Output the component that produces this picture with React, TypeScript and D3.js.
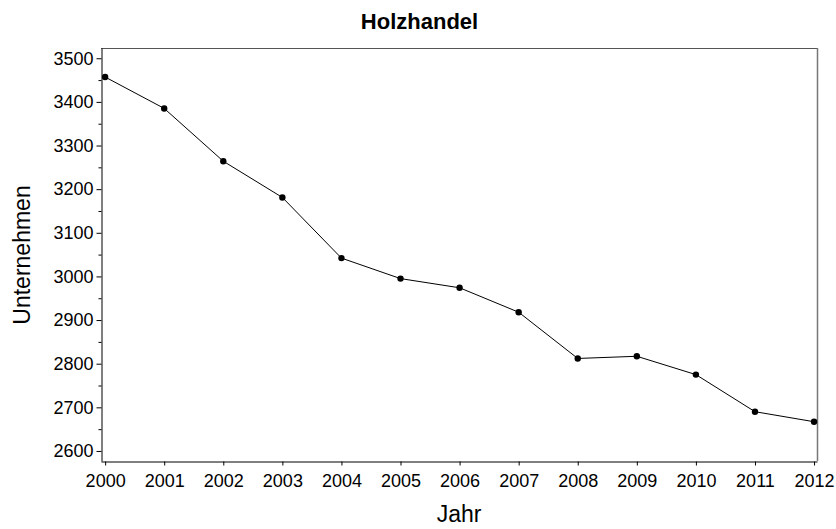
import React, { useRef, useEffect } from 'react';
import * as d3 from 'd3';

const years = [2000, 2001, 2002, 2003, 2004, 2005, 2006, 2007, 2008, 2009, 2010, 2011, 2012];
const unternehmen = [3457, 3385, 3264, 3181, 3042, 2995, 2974, 2918, 2812, 2817, 2775, 2690, 2667];
const yTicks = [2600, 2700, 2800, 2900, 3000, 3100, 3200, 3300, 3400, 3500];
const yMinorTicks = [2650, 2750, 2850, 2950, 3050, 3150, 3250, 3350, 3450];

const W = 836;
const H = 529;

export default function App() {
  const svgRef = useRef<SVGSVGElement>(null);

  useEffect(() => {
    const svg = d3.select(svgRef.current);
    svg.selectAll('*').remove();

    // plot frame
    const left = 101, right = 817, top = 48, bottom = 461;
    const font = "'Liberation Sans', Arial, sans-serif";

    const x = d3.scaleLinear().domain([1999.93, 2012.05]).range([left, right]);
    const y = d3.scaleLinear().domain([2577, 3523.5]).range([bottom, top]);

    svg.append('rect').attr('width', W).attr('height', H).attr('fill', '#fff');

    // frame, top and right in grey
    svg.append('line').attr('x1', left).attr('x2', right).attr('y1', top + 0.5).attr('y2', top + 0.5)
      .attr('stroke', '#555').attr('stroke-width', 1);
    svg.append('line').attr('x1', right + 0.5).attr('x2', right + 0.5).attr('y1', top).attr('y2', bottom)
      .attr('stroke', '#777').attr('stroke-width', 1.5);

    // y axis
    const yAxis = svg.append('g')
      .attr('transform', `translate(${left + 0.5},0)`)
      .call(d3.axisLeft(y).tickValues(yTicks).tickFormat(d3.format('d')).tickSize(5).tickPadding(3).tickSizeOuter(0));
    yAxis.select('.domain').attr('stroke', '#000');
    yAxis.selectAll('text').attr('font-family', font).attr('font-size', 18).attr('fill', '#000');
    svg.append('g')
      .attr('transform', `translate(${left + 0.5},0)`)
      .call(d3.axisLeft(y).tickValues(yMinorTicks).tickSize(3).tickFormat(() => '').tickSizeOuter(0))
      .select('.domain').remove();

    // x axis
    const xAxis = svg.append('g')
      .attr('transform', `translate(0,${bottom + 0.5})`)
      .call(d3.axisBottom(x).tickValues(years).tickFormat(d3.format('d')).tickSize(4).tickPadding(9).tickSizeOuter(0));
    xAxis.select('.domain').attr('stroke', '#000');
    xAxis.selectAll('text').attr('font-family', font).attr('font-size', 18).attr('fill', '#000');

    // series
    const pts = years.map((yr, i) => [yr, unternehmen[i]] as [number, number]);
    const line = d3.line<[number, number]>().x(d => x(d[0])).y(d => y(d[1]));
    svg.append('path').datum(pts).attr('d', line).attr('fill', 'none')
      .attr('stroke', '#000').attr('stroke-width', 1);
    svg.selectAll('circle.pt').data(pts).enter().append('circle')
      .attr('class', 'pt')
      .attr('cx', d => x(d[0])).attr('cy', d => y(d[1])).attr('r', 3.2).attr('fill', '#000');

    // titles
    svg.append('text').attr('x', 419.5).attr('y', 29).attr('text-anchor', 'middle')
      .attr('font-family', font).attr('font-size', 22).attr('font-weight', 'bold').text('Holzhandel');
    svg.append('text').attr('x', 459).attr('y', 522).attr('text-anchor', 'middle')
      .attr('font-family', font).attr('font-size', 23).text('Jahr');
    svg.append('text').attr('transform', `translate(30,255) rotate(-90)`).attr('text-anchor', 'middle')
      .attr('font-family', font).attr('font-size', 23).text('Unternehmen');
  }, []);

  return (
    <svg ref={svgRef} width={W} height={H}
      style={{ position: 'absolute', left: 0, top: 0, display: 'block' }} />
  );
}
